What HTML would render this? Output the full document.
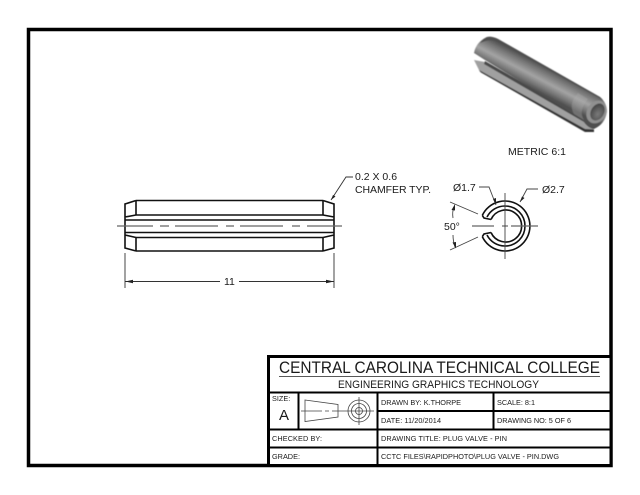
<!DOCTYPE html>
<html><head><meta charset="utf-8"><style>
html,body{margin:0;padding:0;background:#fff;width:640px;height:495px;overflow:hidden}
svg{display:block}
text{font-family:"Liberation Sans",sans-serif;fill:#1a1a1a}
</style></head><body>
<svg width="640" height="495" viewBox="0 0 640 495" xmlns="http://www.w3.org/2000/svg">
<defs>
<linearGradient id="g" gradientUnits="userSpaceOnUse" x1="490" y1="37" x2="478" y2="60">
<stop offset="0" stop-color="#4c4c4c"/><stop offset=".22" stop-color="#737373"/><stop offset=".55" stop-color="#a4a4a4"/><stop offset=".82" stop-color="#757575"/><stop offset="1" stop-color="#505050"/>
</linearGradient>
<radialGradient id="h" cx=".6" cy=".6" r=".7">
<stop offset="0" stop-color="#7a7a7a"/><stop offset="1" stop-color="#3e3e3e"/>
</radialGradient>
<filter id="b" x="-5%" y="-5%" width="110%" height="110%"><feGaussianBlur stdDeviation=".6"/></filter>
</defs>
<rect x="28.500" y="29.500" width="582.500" height="436" fill="#fff" stroke="#000" stroke-width="3.500"/>
<!-- 3D pin -->
<g filter="url(#b)">
<path d="M474 60 L485 62 L592 123 L594 131 L585 131 L480 72 Z" fill="#a0a0a0"/>
<path d="M479 70 L481 72.500 L585 132 L594 132 L594 129.500 L585 129 Z" fill="#333"/>
<path d="M485 61 L584 118 L590 125 L584 122 L484 64 Z" fill="#4a4a4a"/>
<path d="M474 53 Q476 42 487 37 Q492 36 498 39 L600 97 Q607 103 607 112 Q605 124 594 129 Q587 128 582 119 L485 60 Z" fill="url(#g)"/>
<path d="M487 37 Q492 36 498 39 L600 97 L603 100 L498 42 Q490 38 480 43 Q483 39 487 37 Z" fill="#505050"/>
<path d="M578 93 L588 99 Q578 111 584 120 L574 114 Q568 104 578 93 Z" fill="#b0b0b0" opacity=".35"/>
<ellipse cx="596.500" cy="112" rx="9.500" ry="12" transform="rotate(30 596.5 112)" fill="#909090"/>
<ellipse cx="597.500" cy="112" rx="6.500" ry="9" transform="rotate(30 597.5 112)" fill="url(#h)"/>
</g>
<text x="508" y="155" font-size="10.500" textLength="58">METRIC 6:1</text>

<!-- Pin front view -->
<g fill="none" stroke="#111" stroke-width="1.600">
<path d="M136 200.500 H323 M136 215 H323 M125 220 H334 M125 232.500 H334 M136 237.500 H323 M136 251 H323"/>
<path d="M136 200.500 V215 M323 200.500 V215 M136 237.500 V251 M323 237.500 V251"/>
<path d="M136 200.500 L125 204 V248 L136 251 M136 215 L125 217 M136 237.500 L125 235"/>
<path d="M323 200.500 L334 204 V248 L323 251 M323 215 L334 217 M323 237.500 L334 235"/>
</g>
<path d="M117 226 H153 M160 226 H169 M175 226 H218 M226 226 H234 M240 226 H283 M292 226 H300 M307 226 H342" stroke="#666" stroke-width="1.200" fill="none"/>
<!-- Dimension -->
<g stroke="#333" stroke-width=".9" fill="none">
<path d="M125 253 V288 M334 253 V288 M125 281.500 H220 M239 281.500 H334"/>
<path d="M331 200 L346 177 H353"/>
</g>
<path d="M125 281.500 L133 279.800 V283.200 Z M334 281.500 L326 279.800 V283.200 Z M331 200 L333 195 L335.500 196.500 Z" fill="#222"/>
<text x="224" y="285" font-size="10.500">11</text>
<text x="355" y="180" font-size="10.500">0.2 X 0.6</text>
<text x="355" y="193" font-size="10.500" textLength="76">CHAMFER TYP.</text>

<!-- End view -->
<g fill="none" stroke="#111" stroke-width="1.600">
<path d="M482.300 215.400 A25 25 0 1 1 482.300 236.600"/>
<path d="M487 217 A20 20 0 0 1 505 206 M487 235 A20 20 0 0 0 505 246 M505 206 A20 20 0 0 1 505 246"/>
<path d="M491 219.500 A16 16 0 1 1 491 232.500"/>
<path d="M482.300 215.400 L484 218 L491 219.500 M482.300 236.600 L484 234 L491 232.500"/>
</g>
<g stroke="#444" stroke-width=".9" fill="none">
<path d="M505 193 V259 M502 226 H508"/>
<path d="M450 202 L478 214 M450 250 L478 237"/>
<path d="M454 207 Q452 212 453 218 M453 235 Q453 241 455 247"/>
<path d="M479 187 H489 L496 205 M538 189 H527 L520 202"/>
</g>
<path d="M472 226 H494 M511 226 H538" stroke="#666" stroke-width="1.200" fill="none"/>
<path d="M455 204 L451.500 210 L455 210.500 Z M456 248.500 L452.500 242.500 L456 242 Z M496 205 L493 199 L496 198 Z M520 202 L522 196.500 L524.500 198 Z" fill="#222"/>
<text x="453" y="191" font-size="10.500">Ø1.7</text>
<text x="542" y="193" font-size="10.500">Ø2.7</text>
<text x="444" y="230" font-size="10.500">50°</text>

<!-- Title block -->
<rect x="268.500" y="356.500" width="342.500" height="109" fill="#fff" stroke="#000" stroke-width="3"/>
<g stroke="#000" stroke-width="2" fill="none">
<path d="M268 392.500 H611 M268 429.500 H611 M268 447.500 H611 M378 411 H611 M298.500 392 V429 M377.500 392 V465 M493.500 392 V429"/>
</g>
<path d="M279 376.500 H600" stroke="#222" stroke-width=".8"/>
<text x="279" y="373" font-size="17" textLength="321" lengthAdjust="spacingAndGlyphs">CENTRAL CAROLINA TECHNICAL COLLEGE</text>
<text x="338" y="388" font-size="10.800" textLength="201" lengthAdjust="spacingAndGlyphs">ENGINEERING GRAPHICS TECHNOLOGY</text>
<text x="272" y="401" font-size="7.300">SIZE:</text>
<text x="279" y="420" font-size="15">A</text>
<text x="381" y="405" font-size="7.300" textLength="80">DRAWN BY: K.THORPE</text>
<text x="497" y="405" font-size="7.300" textLength="38">SCALE: 8:1</text>
<text x="381" y="423" font-size="7.300" textLength="60">DATE: 11/20/2014</text>
<text x="497" y="423" font-size="7.300" textLength="74">DRAWING NO: 5 OF 6</text>
<text x="272" y="441" font-size="7.300" textLength="50">CHECKED BY:</text>
<text x="381" y="441" font-size="7.300" textLength="126">DRAWING TITLE: PLUG VALVE - PIN</text>
<text x="272" y="459" font-size="7.300">GRADE:</text>
<text x="381" y="459" font-size="7.300" textLength="178">CCTC FILES\RAPIDPHOTO\PLUG VALVE - PIN.DWG</text>
<!-- Size icon -->
<g fill="none" stroke="#444" stroke-width=".8">
<path d="M305 400 L338 404.500 V417 L305 421.500 Z"/>
<path d="M301 411 H322 M325 411 H329 M332 411 H374 M359 397 V425"/>
<circle cx="359" cy="411" r="11"/>
<circle cx="359" cy="411" r="7.500"/>
<circle cx="359" cy="411" r="3.500"/>
</g>
</svg>
</body></html>
